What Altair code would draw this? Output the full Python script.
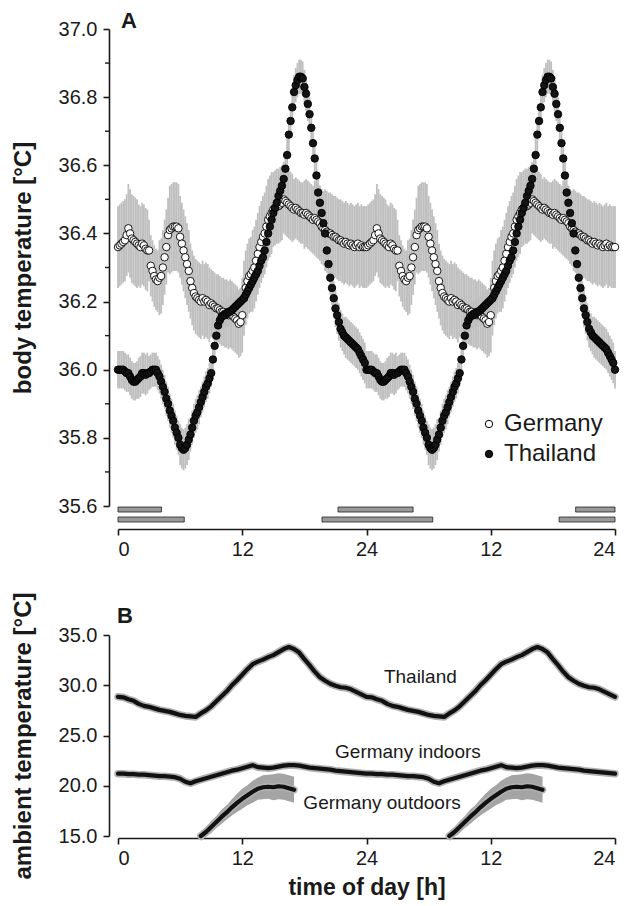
import altair as alt
import pandas as pd

# ---------------- Panel A: body temperature (10-min means, one day, double plotted)
thai_body = [
    36.00, 36.00, 36.00, 36.00, 35.995, 35.99,
    35.99, 35.98, 35.97, 35.965, 35.965, 35.97,
    35.975, 35.98, 35.99, 35.99, 35.985, 35.99,
    35.99, 35.995, 36.00, 36.00, 36.00, 35.99,
    35.98, 35.965, 35.95, 35.935, 35.915, 35.90,
    35.88, 35.865, 35.85, 35.83, 35.815, 35.80,
    35.78, 35.77, 35.765, 35.77, 35.78, 35.795,
    35.81, 35.83, 35.85, 35.865, 35.875, 35.89,
    35.905, 35.92, 35.935, 35.95, 35.96, 35.975,
    35.99, 36.03, 36.07, 36.10, 36.13, 36.145,
    36.155, 36.16, 36.16, 36.165, 36.17, 36.17,
    36.175, 36.18, 36.185, 36.19, 36.195, 36.20,
    36.205, 36.21, 36.22, 36.23, 36.24, 36.25,
    36.26, 36.27, 36.28, 36.29, 36.305, 36.32,
    36.33, 36.35, 36.375, 36.40, 36.42, 36.44,
    36.46, 36.475, 36.49, 36.51, 36.525, 36.54,
    36.56, 36.59, 36.63, 36.69, 36.73, 36.77,
    36.815, 36.835, 36.85, 36.86, 36.86, 36.855,
    36.83, 36.81, 36.78, 36.75, 36.71, 36.665,
    36.62, 36.57, 36.52, 36.49, 36.46, 36.43,
    36.40, 36.35, 36.31, 36.27, 36.24, 36.21,
    36.18, 36.16, 36.14, 36.12, 36.11, 36.10,
    36.095, 36.09, 36.085, 36.08, 36.075, 36.07,
    36.065, 36.06, 36.05, 36.04, 36.03, 36.02,
]
germ_body = [
    36.36, 36.365, 36.37, 36.375, 36.38, 36.395,
    36.415, 36.40, 36.385, 36.38, 36.375, 36.37,
    36.365, 36.36, 36.37, 36.365, 36.355, 36.35,
    36.35, 36.305, 36.29, 36.275, 36.265, 36.26,
    36.27, 36.275, 36.30, 36.33, 36.36, 36.395,
    36.41, 36.415, 36.42, 36.42, 36.42, 36.415,
    36.39, 36.37, 36.35, 36.33, 36.31, 36.29,
    36.26, 36.24, 36.225, 36.215, 36.21, 36.205,
    36.20, 36.21, 36.20, 36.205, 36.20, 36.19,
    36.195, 36.19, 36.185, 36.18, 36.18, 36.175,
    36.17, 36.17, 36.165, 36.165, 36.16, 36.165,
    36.16, 36.155, 36.15, 36.145, 36.135, 36.14,
    36.16, 36.21, 36.24, 36.26, 36.275, 36.28,
    36.29, 36.30, 36.32, 36.34, 36.36, 36.375,
    36.39, 36.40, 36.42, 36.44, 36.45, 36.46,
    36.47, 36.475, 36.48, 36.48, 36.485, 36.49,
    36.50, 36.495, 36.49, 36.485, 36.48, 36.475,
    36.47, 36.475, 36.47, 36.465, 36.46, 36.46,
    36.455, 36.46, 36.455, 36.45, 36.445, 36.44,
    36.445, 36.44, 36.435, 36.43, 36.42, 36.415,
    36.41, 36.405, 36.40, 36.40, 36.395, 36.39,
    36.39, 36.385, 36.38, 36.38, 36.375, 36.37,
    36.375, 36.37, 36.365, 36.37, 36.365, 36.36,
    36.365, 36.37, 36.36, 36.365, 36.36, 36.36,
]
# hourly standard errors
thai_body_sem = [0.055, 0.055, 0.06, 0.05, 0.05, 0.05, 0.06, 0.05, 0.045, 0.04, 0.04, 0.04,
                 0.04, 0.04, 0.045, 0.05, 0.05, 0.05, 0.05, 0.05, 0.05, 0.055, 0.06, 0.06]
germ_body_sem = [0.12, 0.13, 0.12, 0.09, 0.11, 0.13, 0.12, 0.11, 0.11, 0.10, 0.10, 0.10,
                 0.11, 0.12, 0.12, 0.11, 0.10, 0.09, 0.10, 0.11, 0.12, 0.12, 0.12, 0.12]

# sleep bars (two rows)
sleep_row = [1, 1, 1, 2, 2, 2]
sleep_start = [0.0, 21.25, 44.2, 0.0, 19.7, 42.6]
sleep_end = [4.2, 28.5, 48.0, 6.4, 30.4, 48.0]

body_ticks = [35.6, 35.8, 36.0, 36.2, 36.4, 36.6, 36.8, 37.0]
body_minor = [35.7, 35.9, 36.1, 36.3, 36.5, 36.7, 36.9]
x_ticks = [0, 12, 24, 36, 48]

# ---------------- Panel B: ambient temperature (30-min means)
thai_amb = [28.85, 28.8, 28.6, 28.45, 28.15, 27.95, 27.85, 27.7, 27.55, 27.45, 27.35, 27.2,
            27.05, 26.95, 26.9, 26.85, 27.2, 27.5, 27.9, 28.4, 28.9, 29.4, 30.0, 30.5,
            31.05, 31.6, 32.1, 32.35, 32.55, 32.8, 33.0, 33.3, 33.6, 33.8, 33.6, 33.25,
            32.6, 32.0, 31.35, 30.8, 30.45, 30.15, 29.95, 29.8, 29.75, 29.6, 29.35, 29.1]
germ_in = [21.2, 21.2, 21.15, 21.15, 21.1, 21.1, 21.05, 21.0, 20.95, 20.95, 20.9, 20.85,
           20.7, 20.4, 20.25, 20.45, 20.6, 20.75, 20.9, 21.05, 21.2, 21.35, 21.5, 21.6,
           21.75, 21.9, 22.05, 21.85, 21.8, 21.75, 21.8, 21.9, 22.0, 22.05, 22.05, 22.0,
           21.9, 21.8, 21.75, 21.7, 21.65, 21.6, 21.5, 21.45, 21.4, 21.35, 21.3, 21.25]
out_hours = [8.0, 8.5, 9.0, 9.5, 10.0, 10.5, 11.0, 11.5, 12.0, 12.5, 13.0, 13.5, 14.0,
             14.5, 15.0, 15.5, 16.0, 16.5, 17.0]
germ_out = [15.0, 15.4, 15.9, 16.4, 16.9, 17.35, 17.85, 18.3, 18.7, 19.05, 19.4, 19.7,
            19.85, 19.9, 19.85, 19.95, 19.9, 19.75, 19.6]
germ_out_sem = [0.5, 0.5, 0.6, 0.6, 0.7, 0.7, 0.8, 0.9, 1.0, 1.0, 1.1, 1.1, 1.2, 1.2,
                1.3, 1.3, 1.3, 1.3, 1.3]

amb_ticks = [15, 20, 25, 30, 35]
amb_label_text = ["Thailand", "Germany indoors", "Germany outdoors"]
amb_label_h = [29.2, 28.0, 25.5]
amb_label_t = [30.8, 23.35, 18.3]

FONT = "Liberation Sans"
INK = "#1a1a1a"

# ---------------- tables
rows_a = []
for name, vals, sems in (("Germany", germ_body, germ_body_sem), ("Thailand", thai_body, thai_body_sem)):
    n = len(vals)
    for day in range(2):
        for i in range(n):
            rows_a.append(dict(series=name, h=day * 24 + i / 6.0, t=vals[i],
                               lo=vals[i] - sems[i // 6], hi=vals[i] + sems[i // 6]))
    rows_a.append(dict(series=name, h=48.0, t=vals[0], lo=vals[0] - sems[0], hi=vals[0] + sems[0]))
df_a = pd.DataFrame(rows_a)

df_sleep = pd.DataFrame(dict(row=sleep_row, start=sleep_start, end=sleep_end))
df_minor = pd.DataFrame(dict(v=body_minor))

rows_b = []
for name, vals in (("Thailand", thai_amb), ("Germany indoors", germ_in)):
    for day in range(2):
        for i, v in enumerate(vals):
            rows_b.append(dict(series=name, seg=name, h=day * 24 + i * 0.5, t=v))
    rows_b.append(dict(series=name, seg=name, h=48.0, t=vals[0]))
for day in range(2):
    for hh, v, s in zip(out_hours, germ_out, germ_out_sem):
        rows_b.append(dict(series="Germany outdoors", seg="out%d" % day, h=day * 24 + hh,
                           t=v, lo=v - s, hi=v + s))
df_b = pd.DataFrame(rows_b)
df_lab = pd.DataFrame(dict(label=amb_label_text, h=amb_label_h, t=amb_label_t))

W = 497
HA = 477
HB = 201

xlabel_expr = "datum.value == 0 ? '0' : (datum.value % 24 == 0 ? '24' : '' + (datum.value % 24))"

x_a = alt.X("h:Q", scale=alt.Scale(domain=[0, 48], nice=False),
            axis=alt.Axis(values=x_ticks, labelExpr=xlabel_expr, offset=23, title=None))
y_scale_a = alt.Scale(domain=[35.6, 37.0], nice=False, zero=False)
y_axis_a = alt.Axis(values=body_ticks, format=".1f", offset=9, title="body temperature [°C]",
                    titlePadding=23)

base_a = alt.Chart(df_a)
band_a = base_a.mark_rule(color="#bfbfbf", strokeWidth=1.8).encode(
    x=x_a, y=alt.Y("lo:Q", scale=y_scale_a, axis=y_axis_a), y2="hi:Q")
pts_a = base_a.mark_point(shape="circle", filled=True, size=56, strokeWidth=0.9, opacity=1).encode(
    x=x_a, y=alt.Y("t:Q", scale=y_scale_a, axis=y_axis_a),
    fill=alt.Fill("series:N", scale=alt.Scale(domain=["Germany", "Thailand"], range=["white", "#141414"]),
                  legend=alt.Legend(title=None, orient="none", legendX=359, legendY=383,
                                    symbolType="circle", symbolSize=55, symbolStrokeColor="black",
                                    symbolStrokeWidth=1, labelFontSize=24, labelOffset=3,
                                    rowPadding=6, padding=0, labelFont=FONT, labelColor=INK)),
    stroke=alt.value("black"))

sleep1 = alt.Chart(df_sleep).transform_filter("datum.row == 1").mark_rect(
    fill="#9a9a9a", stroke="#222", strokeWidth=0.8).encode(
    x="start:Q", x2="end:Q", y=alt.value(HA + 1), y2=alt.value(HA + 6))
sleep2 = alt.Chart(df_sleep).transform_filter("datum.row == 2").mark_rect(
    fill="#9a9a9a", stroke="#222", strokeWidth=0.8).encode(
    x="start:Q", x2="end:Q", y=alt.value(HA + 11), y2=alt.value(HA + 16))

minor = alt.Chart(df_minor).mark_rule(color=INK, strokeWidth=1.4).encode(
    y=alt.Y("v:Q", scale=y_scale_a, axis=y_axis_a), x=alt.value(-13), x2=alt.value(-9))

lab_a = alt.Chart(pd.DataFrame(dict(s=["A"]))).mark_text(
    font=FONT, fontSize=22, fontWeight="bold", align="left", baseline="alphabetic", color=INK).encode(
    text="s:N", x=alt.value(3), y=alt.value(-1))

panel_a = alt.layer(band_a, pts_a, sleep1, sleep2, minor, lab_a).properties(width=W, height=HA)

# ---------------- panel B
x_b = alt.X("h:Q", scale=alt.Scale(domain=[0, 48], nice=False),
            axis=alt.Axis(values=x_ticks, labelExpr=xlabel_expr, offset=2, title="time of day [h]",
                          titleFontSize=23, titlePadding=8))
y_scale_b = alt.Scale(domain=[15, 35], nice=False, zero=False)
y_axis_b = alt.Axis(values=amb_ticks, format=".1f", offset=9, title="ambient temperature [°C]",
                    titlePadding=23)

base_b = alt.Chart(df_b)
band_b = base_b.transform_filter("datum.series == 'Germany outdoors'").mark_area(
    color="#a4a4a4", opacity=1).encode(
    x=x_b, y=alt.Y("lo:Q", scale=y_scale_b, axis=y_axis_b), y2="hi:Q", detail="seg:N")
halo_b = base_b.mark_line(color="#b0b0b0", strokeWidth=7.5, strokeCap="round", strokeJoin="round").encode(
    x=x_b, y=alt.Y("t:Q", scale=y_scale_b, axis=y_axis_b), detail="seg:N")
line_b = base_b.mark_line(color="#111111", strokeWidth=4.2, strokeCap="round", strokeJoin="round").encode(
    x=x_b, y=alt.Y("t:Q", scale=y_scale_b, axis=y_axis_b), detail="seg:N")
text_b = alt.Chart(df_lab).mark_text(font=FONT, fontSize=19, color=INK, align="center",
                                     baseline="middle").encode(
    x="h:Q", y=alt.Y("t:Q", scale=y_scale_b, axis=y_axis_b), text="label:N")
lab_b = alt.Chart(pd.DataFrame(dict(s=["B"]))).mark_text(
    font=FONT, fontSize=22, fontWeight="bold", align="left", baseline="alphabetic", color=INK).encode(
    text="s:N", x=alt.value(-1), y=alt.value(-12))

panel_b = alt.layer(band_b, halo_b, line_b, text_b, lab_b).properties(width=W, height=HB)

chart = alt.vconcat(panel_a, panel_b, spacing=129, bounds="flush").properties(
    padding={"left": 11, "top": 10, "right": 0, "bottom": 4}
).configure_view(stroke=None).configure_axis(
    grid=False, domainColor=INK, domainWidth=1.6, tickColor=INK, tickWidth=1.6, tickSize=6,
    labelFont=FONT, labelFontSize=20, labelColor=INK, labelPadding=4,
    titleFont=FONT, titleFontSize=24, titleFontWeight="bold", titleColor=INK
).configure_axisY(labelPadding=6)

chart.save("out.html", embed_options={"renderer": "svg", "actions": False})
